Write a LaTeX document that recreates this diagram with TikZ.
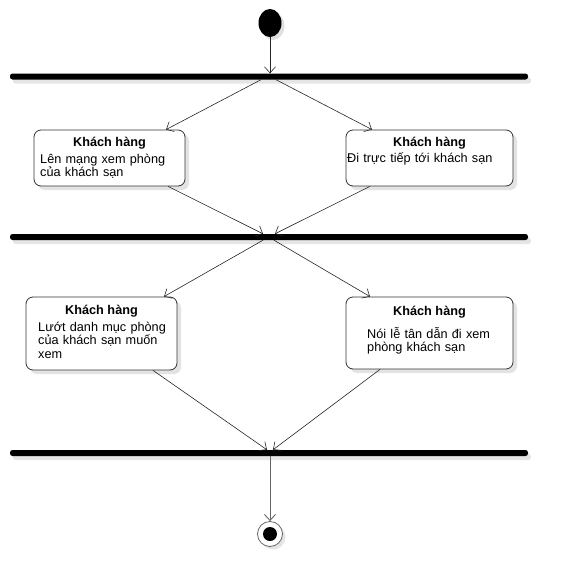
\documentclass[tikz,border=0pt]{standalone}
\usepackage{fontspec}
\setmainfont{Liberation Sans}
\usetikzlibrary{shadows,arrows.meta,shapes.geometric}

\tikzset{
  actbox/.style={draw=black!80, fill=white, line width=0.8pt, rounded corners=7pt,
    inner sep=0pt, drop shadow={shadow xshift=4pt, shadow yshift=-4pt, fill=black!11, opacity=1}},
  syncbar/.style={fill=black, rounded corners=2.5pt, minimum width=518pt, minimum height=6pt,
    inner sep=0pt, drop shadow={shadow xshift=3pt, shadow yshift=-4pt, fill=black!10, opacity=1}},
  boxtitle/.style={anchor=base, inner sep=0pt, font=\fontsize{12.7}{14}\selectfont\bfseries},
  boxtext/.style={anchor=base west, inner sep=0pt, text width=160pt, align=left,
    font=\fontsize{12.7}{13.8}\selectfont},
  flow/.style={draw=black!85, line width=0.6pt, -{Straight Barb[length=6pt,width=11pt]}}
}

\begin{document}
\begin{tikzpicture}[x=1pt, y=-1pt]
  % Fix the page to the size of the reference
  \useasboundingbox (0,0) rectangle (570,587);

  % Initial node
  \node[ellipse, fill=black, minimum width=23pt, minimum height=28pt, inner sep=0pt,
    drop shadow={shadow xshift=3pt, shadow yshift=-3pt, fill=black!12, opacity=1}] (start) at (270,23) {};

  % Synchronisation bars
  \node[syncbar] (bar1) at (269,76.5) {};
  \node[syncbar] (bar2) at (269,237) {};
  \node[syncbar] (bar3) at (269,453) {};

  % Action boxes
  \node[actbox, minimum width=151pt, minimum height=56pt] (box1) at (109.5,158) {};
  \node[actbox, minimum width=167pt, minimum height=56pt] (box2) at (429.5,158) {};
  \node[actbox, minimum width=151pt, minimum height=73pt] (box3) at (101.5,333.5) {};
  \node[actbox, minimum width=167pt, minimum height=72pt] (box4) at (429.5,333) {};

  % Texts in the boxes
  \node[boxtitle] (title1) at ([yshift=-17pt]box1.north) {Khách hàng};
  \node[boxtext] (text1) at (40,163) {Lên mạng xem phòng\\của khách sạn};
  \node[boxtitle] (title2) at ([yshift=-17pt]box2.north) {Khách hàng};
  \node[boxtext] (text2) at (347,162) {Đi trực tiếp tới khách sạn};
  \node[boxtitle] (title3) at ([yshift=-18pt]box3.north) {Khách hàng};
  \node[boxtext] (text3) at (38,331) {Lướt danh mục phòng\\của khách sạn muốn\\xem};
  \node[boxtitle] (title4) at ([yshift=-19pt]box4.north) {Khách hàng};
  \node[boxtext] (text4) at (367,338) {Nói lễ tân dẫn đi xem\\phòng khách sạn};

  % Final node
  \node[circle, draw=black!60, fill=white, line width=0.8pt, minimum size=25pt, inner sep=0pt,
    drop shadow={shadow xshift=3pt, shadow yshift=-3pt, fill=black!10, opacity=1}] (stop) at (270,534) {};
  \node[circle, fill=black, minimum size=14pt, inner sep=0pt] (stopdot) at (stop) {};

  % Connectors
  \draw[flow] (start.south) -- (start.south |- bar1.north);
  \draw[flow] ([xshift=-8pt]bar1.south) -- ([xshift=56.5pt]box1.north);
  \draw[flow] ([xshift=7pt]bar1.south) -- ([xshift=-57.5pt]box2.north);
  \draw[flow] ([xshift=58.5pt]box1.south) -- ([xshift=-6pt]bar2.north);
  \draw[flow] ([xshift=-59.5pt]box2.south) -- ([xshift=6pt]bar2.north);
  \draw[flow] ([xshift=-6pt]bar2.south) -- ([xshift=62.5pt]box3.north);
  \draw[flow] ([xshift=5pt]bar2.south) -- ([xshift=-59.5pt]box4.north);
  \draw[flow] ([xshift=51.5pt]box3.south) -- ([xshift=-2pt]bar3.north);
  \draw[flow] ([xshift=-49.5pt]box4.south) -- ([xshift=4pt]bar3.north);
  \draw[flow, draw=black!60, line width=0.9pt] ([xshift=1pt]bar3.south) -- (stop.north);
\end{tikzpicture}
\end{document}
